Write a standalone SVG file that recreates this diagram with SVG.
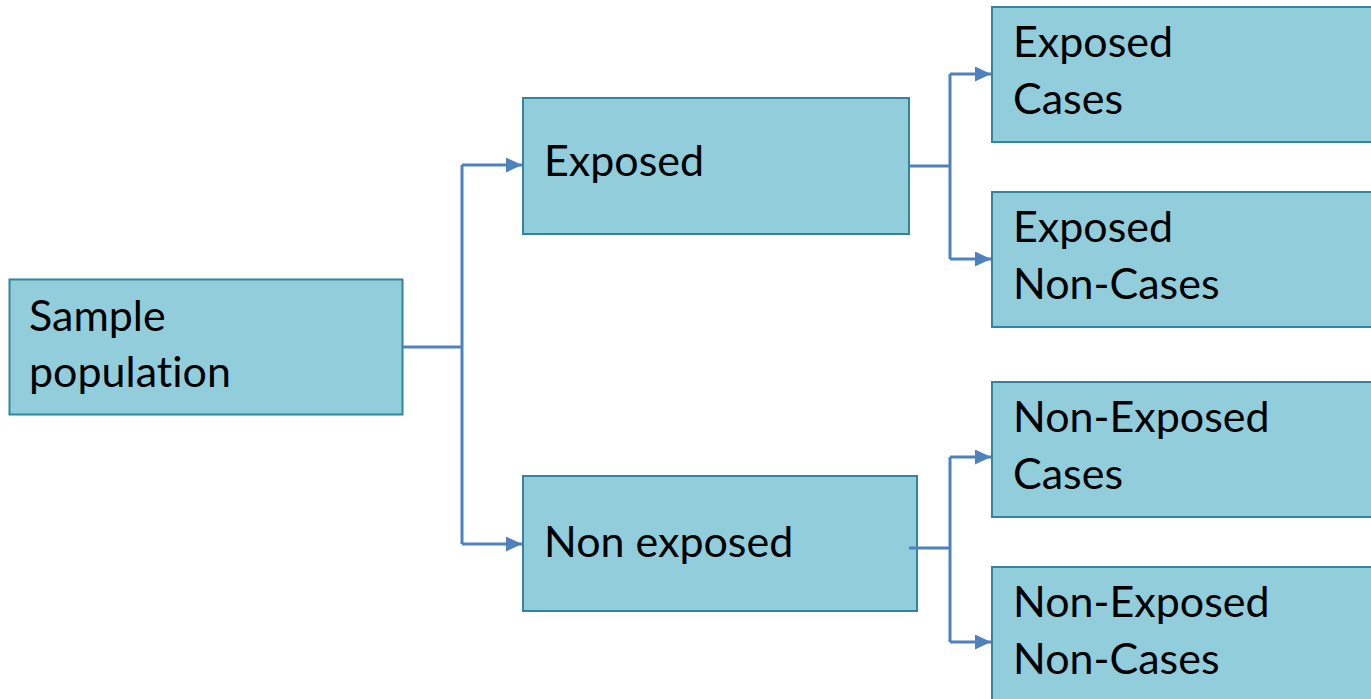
<svg xmlns="http://www.w3.org/2000/svg" width="1371" height="699" viewBox="0 0 1371 699">
<defs>
<style>
.box{fill:#92CDDC;stroke:#31859C;stroke-width:2}
.t{font-family:Lato,"Open Sans",sans-serif;font-size:43px;fill:#000;font-variant-ligatures:none}
.c{fill:none;stroke:#4F81BD;stroke-width:3}
</style>
<marker id="ah" viewBox="0 0 16 15" refX="16" refY="7.5" markerWidth="16" markerHeight="15" markerUnits="userSpaceOnUse" orient="auto">
<path d="M0,0 L16,7.5 L0,15 z" fill="#4F81BD"/>
</marker>
</defs>
<g id="sample">
<rect class="box" x="9.5" y="279.5" width="393" height="135"/>
<text class="t" x="29" y="331">Sample</text>
<text class="t" x="29" y="387">population</text>
</g>
<g id="exposed">
<rect class="box" x="523" y="98" width="386" height="136"/>
<text class="t" x="544" y="176">Exposed</text>
</g>
<g id="nonexposed">
<rect class="box" x="523" y="476" width="394" height="135"/>
<text class="t" x="544" y="557">Non exposed</text>
</g>
<g id="exposed-cases">
<rect class="box" x="992" y="7" width="382" height="135"/>
<text class="t" x="1013" y="57">Exposed</text>
<text class="t" x="1013" y="114">Cases</text>
</g>
<g id="exposed-noncases">
<rect class="box" x="992" y="192" width="382" height="135"/>
<text class="t" x="1013" y="242">Exposed</text>
<text class="t" x="1013" y="299">Non-Cases</text>
</g>
<g id="nonexposed-cases">
<rect class="box" x="992" y="382" width="382" height="135"/>
<text class="t" x="1013" y="432">Non-Exposed</text>
<text class="t" x="1013" y="489">Cases</text>
</g>
<g id="nonexposed-noncases">
<rect class="box" x="992" y="567" width="382" height="140"/>
<text class="t" x="1013" y="617">Non-Exposed</text>
<text class="t" x="1013" y="674">Non-Cases</text>
</g>
<g id="connectors">
<path class="c" d="M403,347 H462"/>
<path class="c" d="M462,165 V544"/>
<path class="c" d="M462,165 H522" marker-end="url(#ah)"/>
<path class="c" d="M462,544 H522" marker-end="url(#ah)"/>
<path class="c" d="M910,166 H950"/>
<path class="c" d="M950,74 V259"/>
<path class="c" d="M950,74 H991" marker-end="url(#ah)"/>
<path class="c" d="M950,259 H991" marker-end="url(#ah)"/>
<path class="c" d="M909,548 H950"/>
<path class="c" d="M950,457 V642"/>
<path class="c" d="M950,457 H991" marker-end="url(#ah)"/>
<path class="c" d="M950,642 H991" marker-end="url(#ah)"/>
</g>
</svg>
